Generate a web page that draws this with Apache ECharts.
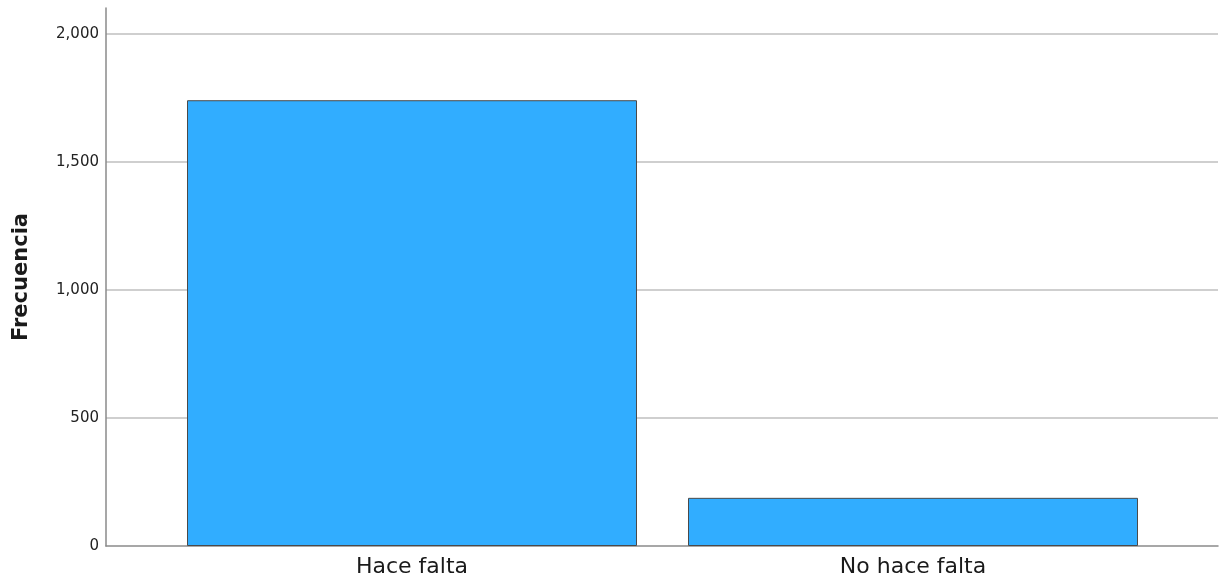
<!DOCTYPE html>
<html>
<head>
<meta charset="utf-8">
<script src="https://cdn.jsdelivr.net/npm/echarts@6/dist/echarts.min.js"></script>
<style>
  html, body { margin: 0; padding: 0; background: #fff; }
  #chart { width: 1222px; height: 583px; }
</style>
</head>
<body>
<div id="chart"></div>
<script>
// Frecuencia por categoría
const categories = ['Hace falta', 'No hace falta'];
const frequencies = [1740, 188];
const yTicks = [0, 500, 1000, 1500, 2000];

const yMax = 2100;
const FONT = '"DejaVu Sans", "Liberation Sans", sans-serif';

function initChart() {
    const chart = echarts.init(document.getElementById('chart'));

    const option = {
        backgroundColor: '#ffffff',
        animation: false,
        grid: [
            // marco de ejes (líneas y etiquetas de Y)
            { left: 106, right: 4, top: 8, bottom: 37 },
            // área de las barras
            { left: 161.5, right: 58.5, top: 8, bottom: 37 }
        ],
        xAxis: [
            {
                gridIndex: 0,
                type: 'value',
                min: 0,
                max: 1,
                axisLine: { show: true, lineStyle: { color: '#8a8a8a', width: 1.5 } },
                axisTick: { show: false },
                axisLabel: { show: false },
                splitLine: { show: false }
            },
            {
                gridIndex: 1,
                type: 'category',
                data: categories,
                axisLine: { show: false },
                axisTick: { show: false },
                axisLabel: {
                    color: '#1a1a1a',
                    fontFamily: FONT,
                    fontSize: 22,
                    margin: 10
                }
            }
        ],
        yAxis: [
            {
                gridIndex: 0,
                type: 'value',
                min: 0,
                max: yMax,
                interval: 500,
                name: 'Frecuencia',
                nameLocation: 'middle',
                nameGap: 74,
                nameRotate: 90,
                nameTextStyle: {
                    color: '#1a1a1a',
                    fontFamily: FONT,
                    fontSize: 21,
                    fontWeight: 'bold'
                },
                axisLine: { show: true, lineStyle: { color: '#8a8a8a', width: 1.5 } },
                axisTick: { show: false },
                axisLabel: {
                    color: '#222222',
                    fontFamily: FONT,
                    fontSize: 15,
                    margin: 7,
                    showMaxLabel: false,
                    formatter: function (v) {
                        return yTicks.indexOf(v) >= 0 ? v.toLocaleString('en-US') : '';
                    }
                },
                splitLine: {
                    show: true,
                    showMinLine: false,
                    showMaxLine: false,
                    lineStyle: { color: '#cfcfcf', width: 2 }
                }
            },
            {
                gridIndex: 1,
                type: 'value',
                min: 0,
                max: yMax,
                show: false,
                splitLine: { show: false }
            }
        ],
        series: [
            {
                name: 'Frecuencia',
                type: 'bar',
                xAxisIndex: 1,
                yAxisIndex: 1,
                barWidth: 450,
                itemStyle: {
                    color: '#31adff',
                    borderColor: '#4a4a4a',
                    borderWidth: 1
                },
                data: frequencies
            }
        ]
    };

    chart.setOption(option);
    return chart;
}

document.addEventListener('DOMContentLoaded', function () {
    if (typeof echarts !== 'undefined') {
        initChart();
    } else {
        console.error('ECharts library not loaded');
    }
});
</script>
</body>
</html>
